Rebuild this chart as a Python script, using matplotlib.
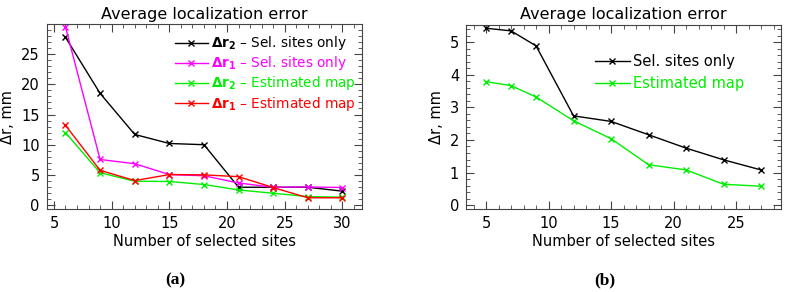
import matplotlib
matplotlib.use("Agg")
import matplotlib.pyplot as plt
from matplotlib.ticker import MultipleLocator

# ---- data: panel (a)
sites_a = [6, 9, 12, 15, 18, 21, 24, 27, 30]
dr2_sel_a = [27.8, 18.5, 11.7, 10.2, 10.0, 2.95, 2.95, 2.95, 2.3]
dr1_sel_a = [29.5, 7.55, 6.85, 5.05, 4.85, 3.65, 2.95, 3.0, 2.9]
dr2_est_a = [12.0, 5.35, 3.95, 3.9, 3.4, 2.5, 1.95, 1.4, 1.3]
dr1_est_a = [13.2, 5.75, 4.05, 5.05, 5.0, 4.7, 2.9, 1.2, 1.2]

# ---- data: panel (b)
sites_b = [5, 7, 9, 12, 15, 18, 21, 24, 27]
sel_b = [5.43, 5.35, 4.89, 2.74, 2.57, 2.16, 1.75, 1.39, 1.08]
est_b = [3.79, 3.67, 3.32, 2.59, 2.04, 1.24, 1.08, 0.64, 0.58]

title = "Average localization error"
xlabel = "Number of selected sites"
ylabel = "Δr, mm"

plt.rcParams['font.family'] = ['DejaVu Sans']
fig = plt.figure(figsize=(7.86, 2.92), dpi=100)

axa = fig.add_axes([0.0594, 0.2842, 0.4012, 0.6325])
axb = fig.add_axes([0.5929, 0.2842, 0.4008, 0.6302])

mk = dict(marker='x', markersize=5, linewidth=1.0, markeredgewidth=1.0)
axa.plot(sites_a, dr2_sel_a, color='black', label=r'$\mathbf{\Delta r_2}$ – Sel. sites only', **mk)
axa.plot(sites_a, dr1_sel_a, color='#ff00ff', label=r'$\mathbf{\Delta r_1}$ – Sel. sites only', **mk)
axa.plot(sites_a, dr2_est_a, color='#00ee00', label=r'$\mathbf{\Delta r_2}$ – Estimated map', **mk)
axa.plot(sites_a, dr1_est_a, color='#ff0000', label=r'$\mathbf{\Delta r_1}$ – Estimated map', **mk)

axb.plot(sites_b, sel_b, color='black', label='Sel. sites only', **mk)
axb.plot(sites_b, est_b, color='#00ee00', label='Estimated map', **mk)

axa.set_xlim(4.37, 31.7)
axa.set_ylim(-0.66, 29.95)
axa.xaxis.set_major_locator(MultipleLocator(5))
axa.xaxis.set_minor_locator(MultipleLocator(1))
axa.yaxis.set_major_locator(MultipleLocator(5))
axa.yaxis.set_minor_locator(MultipleLocator(1))

axb.set_xlim(3.4, 28.6)
axb.set_ylim(-0.12, 5.53)
axb.xaxis.set_major_locator(MultipleLocator(5))
axb.xaxis.set_minor_locator(MultipleLocator(1))
axb.yaxis.set_major_locator(MultipleLocator(1))
axb.yaxis.set_minor_locator(MultipleLocator(0.2))

for ax in (axa, axb):
    ax.set_title(title, fontsize=11.5, pad=4)
    ax.set_xlabel(xlabel, fontsize=10.5, labelpad=2)
    ax.set_ylabel(ylabel, fontsize=10.5, labelpad=4)
    ax.tick_params(which='both', direction='in', top=True, right=True, labelsize=10.5, color='#444444')
    ax.tick_params(which='major', length=6, width=0.8, pad=5)
    ax.tick_params(which='minor', length=3, width=0.6)
    for s in ax.spines.values():
        s.set_linewidth(0.8)
        s.set_color('#444444')

axa.legend(loc='upper left', bbox_to_anchor=(0.39, 0.975), frameon=False,
           handlelength=2.4, handletextpad=0.2, labelspacing=0.15,
           fontsize=9.8, labelcolor='linecolor', borderaxespad=0)
axb.legend(loc='upper left', bbox_to_anchor=(0.39, 0.875), frameon=False,
           handlelength=2.4, handletextpad=0.2, labelspacing=0.5,
           fontsize=10.5, labelcolor='linecolor', borderaxespad=0)

fig.text(0.2226, 0.04, "(a)", ha='center', va='center', fontsize=12.5,
         fontweight='bold', family='Liberation Serif')
fig.text(0.7697, 0.04, "(b)", ha='center', va='center', fontsize=12.5,
         fontweight='bold', family='Liberation Serif')

fig.savefig("out.png", dpi=100)
